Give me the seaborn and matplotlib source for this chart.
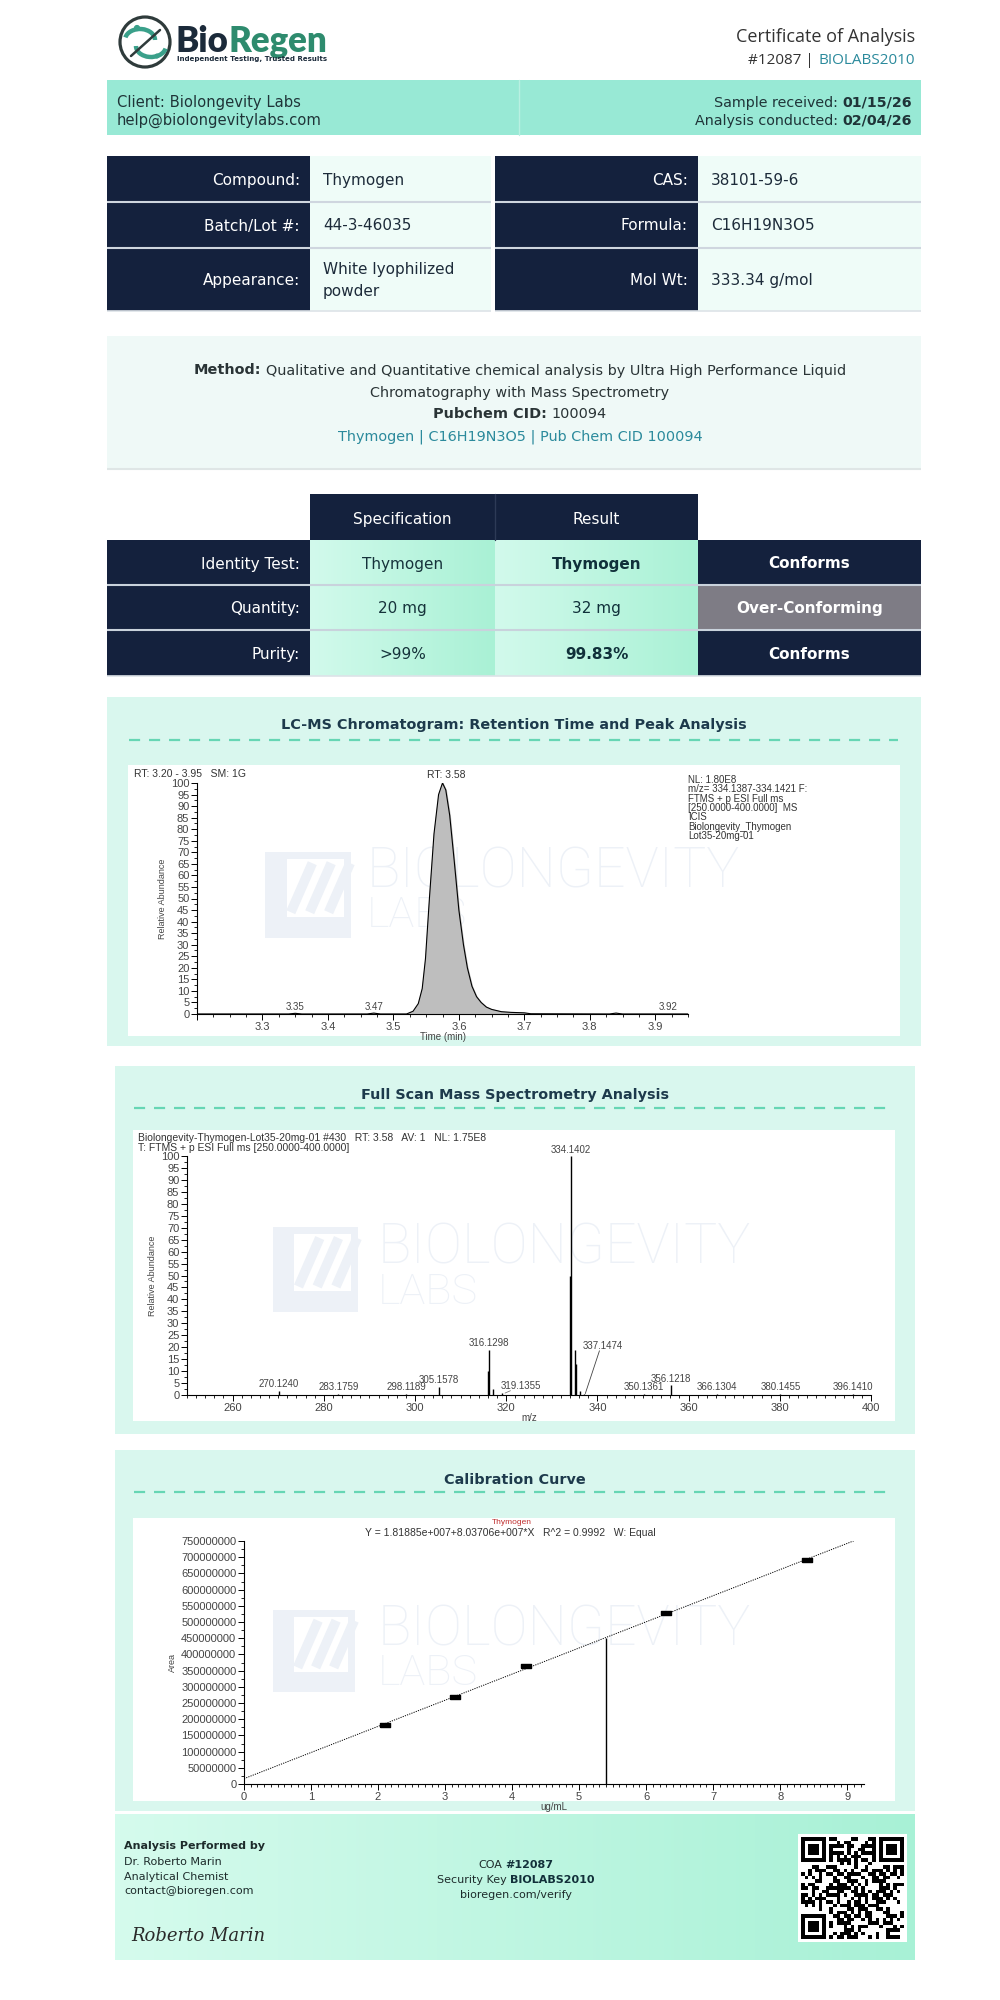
import numpy as np
import matplotlib
matplotlib.use("Agg")
import matplotlib.pyplot as plt
import seaborn as sns
from matplotlib.patches import Rectangle, Circle, Arc
from matplotlib.colors import LinearSegmentedColormap
from matplotlib.ticker import MultipleLocator, FuncFormatter

sns.set_theme(style="white")
plt.rcParams["font.family"] = ["DejaVu Sans"]

# ---------------- data ----------------
coa_number = "#12087"
security_key = "BIOLABS2010"
client_name = "Biolongevity Labs"
client_email = "help@biolongevitylabs.com"
sample_received = "01/15/26"
analysis_conducted = "02/04/26"

info_left_labels = ["Compound:", "Batch/Lot #:", "Appearance:"]
info_left_values = ["Thymogen", "44-3-46035", "White lyophilized\npowder"]
info_right_labels = ["CAS:", "Formula:", "Mol Wt:"]
info_right_values = ["38101-59-6", "C16H19N3O5", "333.34 g/mol"]

method_text = "Qualitative and Quantitative chemical analysis by Ultra High Performance Liquid"
method_text2 = "Chromatography with Mass Spectrometry"
pubchem_cid = "100094"
compound_line = "Thymogen | C16H19N3O5 | Pub Chem CID 100094"

spec_headers = ["Specification", "Result"]
spec_tests = ["Identity Test:", "Quantity:", "Purity:"]
spec_values = ["Thymogen", "20 mg", ">99%"]
result_values = ["Thymogen", "32 mg", "99.83%"]
result_bold = [True, False, True]
status_values = ["Conforms", "Over-Conforming", "Conforms"]

# chromatogram (time in min, relative abundance %)
rt_time = [3.20, 3.34, 3.35, 3.36, 3.46, 3.47, 3.48, 3.52, 3.530, 3.538, 3.544,
           3.549, 3.555, 3.562, 3.569, 3.575, 3.580, 3.586, 3.593, 3.600, 3.607,
           3.613, 3.620, 3.627, 3.634, 3.642, 3.650, 3.665, 3.680, 3.700, 3.710,
           3.83, 3.84, 3.85, 3.95]
rt_abund = [0, 0, 0.3, 0, 0, 0.4, 0, 0, 1.2, 4.5, 11,
            24, 50, 78, 95, 100, 97, 86, 66, 45, 30,
            20, 12, 7.5, 5, 3, 2, 1.0, 0.7, 0.5, 0.1,
            0, 0.4, 0, 0]
rt_apex = 3.58
rt_small_peaks = [3.35, 3.47, 3.92]
rt_info = ["NL: 1.80E8", "m/z= 334.1387-334.1421 F:", "FTMS + p ESI Full ms",
           "[250.0000-400.0000]  MS", "ICIS", "Biolongevity_Thymogen", "Lot35-20mg-01"]

# full scan mass spectrum (m/z, relative abundance %)
ms_mz = [270.1240, 283.1759, 298.1189, 305.1578, 316.02, 316.1298, 317.13, 319.1355,
         334.05, 334.1402, 335.14, 335.35, 336.14, 337.1474, 350.1361, 356.1218,
         366.1304, 380.1455, 396.1410]
ms_int = [1.8, 0.6, 0.6, 3.5, 10, 19, 2.5, 0.8,
          50, 100, 19, 13, 1.5, 0.6, 0.6, 4,
          0.6, 0.6, 0.6]
ms_labeled = [270.1240, 283.1759, 298.1189, 305.1578, 316.1298, 319.1355, 334.1402,
              337.1474, 350.1361, 356.1218, 366.1304, 380.1455, 396.1410]

# calibration curve
cal_conc = [2.1, 3.15, 4.2, 6.3, 8.4]
cal_area = [182e6, 268e6, 363e6, 528e6, 690e6]
sample_conc = 5.4
sample_area = 452e6

# ---------------- style ----------------
NAVY = "#14213d"
MINT = "#98e9d5"
PANEL = "#d9f7ee"
DARK = "#1f3438"
TEAL = "#2b8a9c"
DASH = "#66d6b4"
WM = "#edf1f7"
BODY = ["DejaVu Sans"]
CHART = ["Liberation Sans", "DejaVu Sans"]
TICK = 8

fig = plt.figure(figsize=(10, 20), dpi=100)
page = fig.add_axes([0, 0, 1, 1], zorder=0)
page.axis("off")
R = fig.canvas.get_renderer()


def rect(x0, y0, x1, y1, color, z=1):
    page.add_patch(Rectangle((x0, y0), x1 - x0, y1 - y0, facecolor=color,
                             edgecolor="none", zorder=z))


def grad(x0, y0, x1, y1, c0, c1, z=1):
    cmap = LinearSegmentedColormap.from_list("g", [c0, c1])
    page.imshow(np.linspace(0, 1, 256)[None, :], cmap=cmap, aspect="auto",
                extent=(x0, x1, y1, y0), zorder=z, interpolation="bilinear")


def hline(x0, x1, y, color, lw=1.2, z=3, **kw):
    page.plot([x0, x1], [y, y], color=color, lw=lw, zorder=z, solid_capstyle="butt", **kw)


def txt(x, y, s, size=10, color=DARK, weight="normal", ha="left", family=None, **kw):
    return page.text(x, y, s, fontsize=size, color=color, fontweight=weight, ha=ha,
                     va="center_baseline", family=family or BODY, zorder=6, **kw)


def rich(x, y, parts, size=10, ha="left", family=None):
    objs, widths = [], []
    for s, c, w in parts:
        o = txt(0, y, s.rstrip(), size, c, w, family=family)
        wd = o.get_window_extent(R).width
        if s.endswith(" "):
            wd += 0.32 * size * 100 / 72
        objs.append(o)
        widths.append(wd)
    total = sum(widths)
    start = {"left": x, "center": x - total / 2, "right": x - total}[ha]
    for o, wd in zip(objs, widths):
        o.set_x(start)
        start += wd


def chart_axes(x0, x1, top, bottom):
    ax = fig.add_axes([x0 / 1000, 1 - bottom / 2000, (x1 - x0) / 1000, (bottom - top) / 2000],
                      zorder=2)
    ax.patch.set_alpha(0)
    sns.despine(ax=ax)
    for sp in ("left", "bottom"):
        ax.spines[sp].set_color("black")
        ax.spines[sp].set_linewidth(0.8)
    ax.tick_params(which="both", direction="out", colors="#444", labelsize=TICK,
                   left=True, bottom=True, pad=1.5)
    ax.tick_params(which="major", length=4, width=0.7, color="black")
    ax.tick_params(which="minor", length=2, width=0.6, color="black")
    return ax


def style_ticks(ax):
    for lab in ax.get_xticklabels() + ax.get_yticklabels():
        lab.set_family(CHART)
        lab.set_color("#444")


def watermark(lx, ly, size, tx, ty, fs):
    rect(lx, ly, lx + size, ly + size, WM, z=2)
    rect(lx + 0.25 * size, ly + 0.08 * size, lx + 0.92 * size, ly + 0.75 * size, "white", z=2)
    for k in range(3):
        d = 0.22 * size * k
        page.plot([lx + 0.3 * size + d, lx + 0.55 * size + d],
                  [ly + 0.7 * size, ly + 0.13 * size], color=WM, lw=7, zorder=2,
                  solid_capstyle="butt")
    page.text(tx, ty, "BIOLONGEVITY", fontsize=fs, color=WM, fontweight="light",
              family=["Liberation Sans Narrow", "Roboto"], ha="left", va="top", zorder=2)
    page.text(tx, ty + 1.0 * fs * 1.25, "LABS", fontsize=fs * 0.78, color=WM, fontweight="light",
              family=["Liberation Sans Narrow", "Roboto"], ha="left", va="top", zorder=2)


def section(x0, x1, y0, y1, title, ty, dy, ix0, ix1, iy0, iy1):
    rect(x0, y0, x1, y1, PANEL)
    txt((x0 + x1) / 2, ty, title, size=10.4, color="#1d3a4c", weight="bold", ha="center")
    page.plot([ix0 + 1, ix1 - 2], [dy, dy], color=DASH, lw=1.6, ls=(0, (5, 4)), zorder=3)
    rect(ix0, iy0, ix1, iy1, "white", z=1.5)


# ---------------- header ----------------
page.add_patch(Circle((145, 42), 25, facecolor="none", edgecolor="#2f3b3b", lw=2.3, zorder=4))
page.add_patch(Arc((140, 40), 30, 22, theta1=190, theta2=360, color="#3aa08a", lw=3.2, zorder=4))
page.add_patch(Arc((151, 46), 30, 22, theta1=10, theta2=180, color="#3aa08a", lw=3.2, zorder=4))
page.plot([131, 160], [56, 30], color="#2f3b3b", lw=1.8, zorder=4)
page.add_patch(Circle((137, 28), 2.4, color="#3aa08a", zorder=4))
page.add_patch(Circle((157, 56), 1.8, color="#3aa08a", zorder=4))
logo_font = ["Lato", "DejaVu Sans"]
probe_all = txt(0, -100, "BioRegen", size=25, weight="heavy", family=logo_font)
probe_end = txt(0, -100, "Regen", size=25, weight="heavy", family=logo_font)
bio_w = probe_all.get_window_extent(R).width - probe_end.get_window_extent(R).width
probe_all.remove()
probe_end.remove()
txt(176, 38, "Bio", size=25, color="#1b2a3a", weight="heavy", family=logo_font)
txt(176 + bio_w, 38, "Regen", size=25, color="#2e8b6e", weight="heavy", family=logo_font)
txt(177, 59, "Independent Testing, Trusted Results", size=5.0, color="#1b2a3a", weight="bold")

txt(915, 35, "Certificate of Analysis", size=13, color="#333333", ha="right",
    family=["Open Sans", "DejaVu Sans"])
rich(915, 58, [(coa_number + " | ", "#333333", "normal"), (security_key, TEAL, "normal")],
     size=11, ha="right", family=["Open Sans", "DejaVu Sans"])

# client band
rect(107, 80, 921, 135, MINT)
page.plot([519, 519], [80, 135], color="#b9f0e2", lw=1, zorder=2)
txt(117, 101, "Client: " + client_name, size=10.6, color=DARK)
txt(117, 119, client_email, size=10.6, color=DARK)
rich(912, 101, [("Sample received: ", DARK, "normal"), (sample_received, DARK, "bold")],
     size=10.3, ha="right")
rich(912, 119, [("Analysis conducted: ", DARK, "normal"), (analysis_conducted, DARK, "bold")],
     size=10.3, ha="right")

# ---------------- info table ----------------
info_rows = [(156, 201.5), (201.5, 247.5), (247.5, 311)]
for i, (y0, y1) in enumerate(info_rows):
    yc = (y0 + y1) / 2
    rect(107, y0, 310, y1, NAVY)
    rect(310, y0, 491, y1, "#effcf8")
    rect(495, y0, 698, y1, NAVY)
    rect(698, y0, 921, y1, "#effcf8")
    txt(300, yc, info_left_labels[i], size=11, color="white", ha="right")
    txt(688, yc, info_right_labels[i], size=11, color="white", ha="right")
    lines = info_left_values[i].split("\n")
    for k, s in enumerate(lines):
        txt(323, yc + (k - (len(lines) - 1) / 2) * 22, s, size=11, color="#1d2b3a")
    txt(711, yc, info_right_values[i], size=11, color="#1d2b3a")
for y in (201.5, 247.5):
    hline(107, 491, y, "#cfd6df", lw=1.5)
    hline(495, 921, y, "#cfd6df", lw=1.5)
hline(107, 491, 311, "#dde3e8", lw=1.2)
hline(495, 921, 311, "#dde3e8", lw=1.2)

# ---------------- method box ----------------
rect(107, 336, 921, 469, "#eff9f7")
hline(107, 921, 469, "#dfe6e6", lw=1.5)
rich(520, 369, [("Method: ", "#2a3436", "bold"), (method_text, "#2a3436", "normal")], size=10.4,
     ha="center")
txt(520, 391, method_text2, size=10.4, color="#2a3436", ha="center")
rich(520, 413, [("Pubchem CID: ", "#2a3436", "bold"), (pubchem_cid, "#2a3436", "normal")],
     size=10.4, ha="center")
txt(520, 435, compound_line, size=10.4, color=TEAL, ha="center")

# ---------------- specification table ----------------
rect(310, 494, 495, 540, NAVY)
rect(495, 494, 698, 540, NAVY)
page.plot([495, 495], [494, 540], color="#2d3a56", lw=1, zorder=3)
txt(402.5, 518, spec_headers[0], size=11, color="white", ha="center")
txt(596.5, 518, spec_headers[1], size=11, color="white", ha="center")
spec_rows = [(540, 585), (585, 630), (630, 676)]
for i, (y0, y1) in enumerate(spec_rows):
    yc = (y0 + y1) / 2
    rect(107, y0, 310, y1, NAVY)
    grad(310, y0, 495, y1, "#d2faec", "#a9f1d5", z=1)
    grad(495, y0, 698, y1, "#d2faec", "#a9f1d5", z=1)
    rect(698, y0, 921, y1, "#7e7c85" if status_values[i] == "Over-Conforming" else NAVY)
    txt(300, yc, spec_tests[i], size=11, color="white", ha="right")
    txt(402.5, yc, spec_values[i], size=11, color="#16333b", ha="center")
    txt(596.5, yc, result_values[i], size=11, color="#10303a", ha="center",
        weight="bold" if result_bold[i] else "normal")
    txt(809.5, yc, status_values[i], size=11, color="white", ha="center", weight="bold")
for y in (585, 630):
    hline(107, 921, y, "#c9d2dc", lw=1.5)
hline(107, 921, 676, "#dde3e8", lw=1.2)

# ---------------- chromatogram ----------------
section(107, 921, 697, 1046, "LC-MS Chromatogram: Retention Time and Peak Analysis", 724, 740,
        128, 900, 765, 1036)
watermark(265, 852, 86, 367, 845, 40)
ax1 = chart_axes(197, 688, 783, 1014)
sns.lineplot(x=rt_time, y=rt_abund, ax=ax1, color="black", lw=0.8)
ax1.fill_between(rt_time, rt_abund, color="#bebebe", zorder=1)
ax1.set_xlim(3.20, 3.95)
ax1.set_ylim(0, 100)
ax1.xaxis.set_major_locator(MultipleLocator(0.1))
ax1.xaxis.set_minor_locator(MultipleLocator(0.025))
ax1.yaxis.set_major_locator(MultipleLocator(5))
ax1.yaxis.set_minor_locator(MultipleLocator(2.5))
ax1.xaxis.set_major_formatter(FuncFormatter(lambda v, p: "" if v < 3.25 else f"{v:.1f}"))
ax1.set_xlabel("Time (min)", fontsize=7, color="#444", labelpad=0, family=CHART)
ax1.set_ylabel("Relative Abundance", fontsize=6.5, color="#444", labelpad=3, family=CHART)
style_ticks(ax1)
ax1.text(rt_apex, 101.5, f"RT: {rt_apex:.2f}", fontsize=7.5, color="#333", ha="center",
         va="bottom", family=CHART, clip_on=False)
for t in rt_small_peaks:
    ax1.text(t, 0.8, f"{t:.2f}", fontsize=7, color="#444", ha="center", va="bottom",
             family=CHART)
txt(134, 773, "RT: 3.20 - 3.95   SM: 1G", size=7.5, color="#333", family=CHART)
for k, s in enumerate(rt_info):
    txt(688, 779 + k * 9.3, s, size=7, color="#333", family=CHART)

# ---------------- mass spectrum ----------------
section(115, 915, 1066, 1434, "Full Scan Mass Spectrometry Analysis", 1094, 1108,
        133, 895, 1130, 1421)
watermark(273, 1227, 85, 378, 1222, 40)
ax2 = chart_axes(187, 871, 1156, 1395)
ax2.vlines(ms_mz, 0, ms_int, color="black", lw=1.0)
sns.lineplot(x=[250, 400], y=[0, 0], ax=ax2, color="black", lw=0.6)
ax2.set_xlim(250, 400)
ax2.set_ylim(0, 100)
ax2.xaxis.set_major_locator(MultipleLocator(20))
ax2.xaxis.set_minor_locator(MultipleLocator(2))
ax2.yaxis.set_major_locator(MultipleLocator(5))
ax2.yaxis.set_minor_locator(MultipleLocator(2.5))
ax2.xaxis.set_major_formatter(FuncFormatter(lambda v, p: "" if v < 255 else f"{v:.0f}"))
ax2.set_xlabel("m/z", fontsize=7, color="#444", labelpad=0, family=CHART)
ax2.set_ylabel("Relative Abundance", fontsize=6.5, color="#444", labelpad=3, family=CHART)
style_ticks(ax2)
ms_lookup = dict(zip(ms_mz, ms_int))
for mz in ms_labeled:
    h = ms_lookup[mz]
    lx, ly = mz, h + 0.6
    if mz == 319.1355:
        lx, ly = mz + 4, 1.8
        ax2.plot([mz + 0.6, mz + 1.8], [h, ly], color="#666", lw=0.5)
    if mz == 337.1474:
        lx, ly = mz + 4, 18.5
        ax2.plot([mz + 0.2, mz + 3.3], [h, ly], color="#444", lw=0.6)
    ax2.text(lx, ly, f"{mz:.4f}", fontsize=7, color="#444", ha="center", va="bottom",
             family=CHART, clip_on=False)
txt(138, 1137, "Biolongevity-Thymogen-Lot35-20mg-01 #430   RT: 3.58   AV: 1   NL: 1.75E8",
    size=7.5, color="#333", family=CHART)
txt(138, 1147, "T: FTMS + p ESI Full ms [250.0000-400.0000]", size=7.5, color="#333",
    family=CHART)

# ---------------- calibration ----------------
section(115, 915, 1450, 1811, "Calibration Curve", 1478, 1492, 133, 895, 1518, 1801)
watermark(273, 1610, 82, 378, 1603, 40)
ax3 = chart_axes(244, 864, 1541, 1784)
ax3.set_xlim(0, 9.25)
ax3.set_ylim(0, 750e6)
sns.regplot(x=np.array(cal_conc), y=np.array(cal_area), ax=ax3, ci=None, scatter=False,
            truncate=False, line_kws=dict(color="black", lw=0.7, ls=(0, (1.2, 1.2))))
box = [(-1, -0.45), (1, -0.45), (1, 0.45), (-1, 0.45), (-1, -0.45)]
ax3.scatter(cal_conc, cal_area, marker=box, s=55, color="black", zorder=4)
ax3.vlines(sample_conc, 0, sample_area, color="black", lw=1.0)
ax3.set_xlim(0, 9.25)
ax3.set_ylim(0, 750e6)
ax3.xaxis.set_major_locator(MultipleLocator(1))
ax3.xaxis.set_minor_locator(MultipleLocator(0.1))
ax3.yaxis.set_major_locator(MultipleLocator(50e6))
ax3.yaxis.set_minor_locator(MultipleLocator(25e6))
ax3.yaxis.set_major_formatter(FuncFormatter(lambda v, p: f"{int(round(v))}"))
ax3.set_xlabel("ug/mL", fontsize=7, color="#444", labelpad=0, family=CHART)
ax3.set_ylabel("Area", fontsize=6.5, color="#444", labelpad=3, family=CHART)
style_ticks(ax3)
txt(512, 1522, "Thymogen", size=6, color="#c03030", ha="center", family=CHART)
txt(510, 1532, "Y = 1.81885e+007+8.03706e+007*X   R^2 = 0.9992   W: Equal", size=7.5,
    color="#333", ha="center", family=CHART)

# ---------------- footer ----------------
grad(115, 1814, 915, 1960, "#d5fbed", "#a8f1d6", z=1)
txt(124, 1845, "Analysis Performed by", size=8, color="#1d2b2b", weight="bold")
txt(124, 1861, "Dr. Roberto Marin", size=8, color="#1d2b2b")
txt(124, 1876, "Analytical Chemist", size=8, color="#1d2b2b")
txt(124, 1890, "contact@bioregen.com", size=8, color="#1d2b2b")
txt(131, 1934, "Roberto Marin", size=13, color="#2a2a2a", family=["DejaVu Serif"],
    style="italic", weight="light")
rich(516, 1864, [("COA ", "#1d2b2b", "normal"), (coa_number, "#12303a", "bold")], size=8,
     ha="center")
rich(516, 1879, [("Security Key ", "#1d2b2b", "normal"), (security_key, "#12303a", "bold")],
     size=8, ha="center")
txt(516, 1894, "bioregen.com/verify", size=8, color="#1d2b2b", ha="center")

# QR code built from the verify string bits
qr_src = ("https://bioregen.com/verify?coa=" + coa_number + "&key=" + security_key).encode()
n = 29
bits = np.zeros((n, n))
for i in range(n):
    for j in range(n):
        b = qr_src[(i * 7 + j * 3) % len(qr_src)]
        bits[i, j] = (b >> ((i + 2 * j) % 8)) & 1
for (r0, c0) in [(0, 0), (0, n - 7), (n - 7, 0)]:
    bits[max(r0 - 1, 0):r0 + 8, max(c0 - 1, 0):c0 + 8] = 0
    bits[r0:r0 + 7, c0:c0 + 7] = 1
    bits[r0 + 1:r0 + 6, c0 + 1:c0 + 6] = 0
    bits[r0 + 2:r0 + 5, c0 + 2:c0 + 5] = 1
rect(798, 1834, 907, 1942, "white", z=1.5)
page.imshow(bits, cmap="gray_r", extent=(801, 904, 1939, 1837), aspect="auto",
            interpolation="nearest", zorder=2, vmin=0, vmax=1)

page.set_xlim(0, 1000)
page.set_ylim(2000, 0)
fig.savefig("out.png", dpi=100, facecolor="white")
